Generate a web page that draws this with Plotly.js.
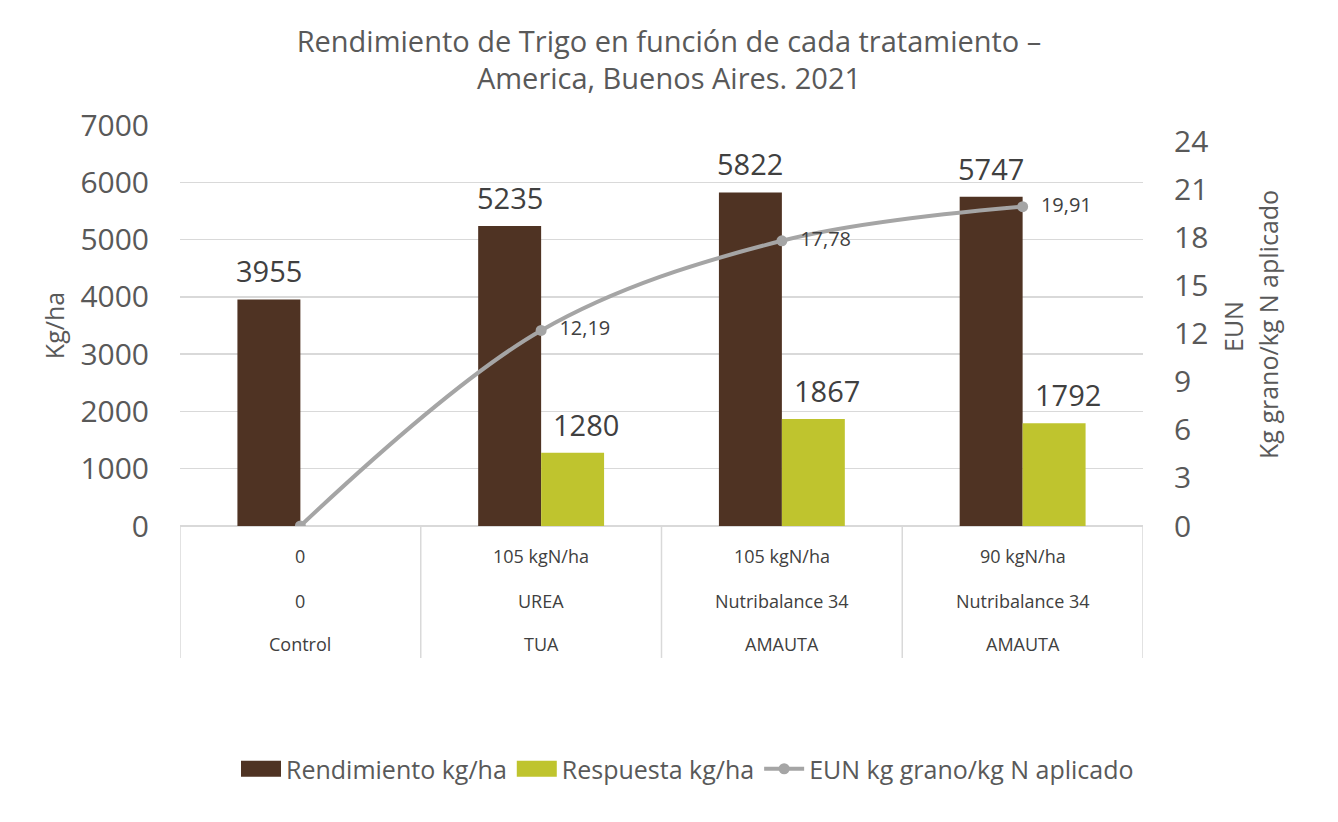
<!DOCTYPE html>
<html>
<head>
<meta charset="utf-8">
<script src="https://cdn.plot.ly/plotly-3.0.1.min.js"></script>
<style>html,body{margin:0;padding:0;background:#fff;}</style>
</head>
<body>
<div id="chart" style="width:1338px;height:822px;"></div>
<script>
// ---- data ----
const dosis = ["0", "105 kgN/ha", "105 kgN/ha", "90 kgN/ha"];
const producto = ["0", "UREA", "Nutribalance 34", "Nutribalance 34"];
const tratamiento = ["Control", "TUA", "AMAUTA", "AMAUTA"];
const rendimiento = [3955, 5235, 5822, 5747];
const respuesta = [null, 1280, 1867, 1792];
const eun = [0, 12.19, 17.78, 19.91];
const eunLabels = ["", "12,19", "17,78", "19,91"];
const leftTicks = [0, 1000, 2000, 3000, 4000, 5000, 6000, 7000];
const rightTicks = [0, 3, 6, 9, 12, 15, 18, 21, 24];

const idx = dosis.map((_, i) => i);
const FONT = "Open Sans, Noto Sans, sans-serif";
const BROWN = "#4F3323";
const GREEN = "#BFC42E";
const GREY = "#A5A5A5";

const traces = [
  {
    type: "bar", name: "Rendimiento kg/ha", x: idx, y: rendimiento,
    marker: {color: BROWN}, hoverinfo: "none"
  },
  {
    type: "bar", name: "Respuesta kg/ha", x: idx, y: respuesta,
    marker: {color: GREEN}, hoverinfo: "none"
  },
  {
    type: "scatter", mode: "lines+markers+text", name: "EUN kg grano/kg N aplicado",
    x: idx, y: eun, yaxis: "y2",
    text: eunLabels, texttemplate: "  %{text}", textposition: "middle right",
    textfont: {family: FONT, size: 20, color: "#404040"},
    line: {color: GREY, width: 4, shape: "spline", smoothing: 1},
    marker: {color: GREY, size: 11, symbol: "circle"},
    hoverinfo: "none"
  }
];

const annotations = [];
// bar value labels
rendimiento.forEach((v, i) => {
  if (v == null) return;
  annotations.push({x: i, y: v, xref: "x", yref: "y", text: String(v),
    showarrow: false, xshift: -31.5, yshift: 7, yanchor: "bottom",
    font: {family: FONT, size: 29, color: "#404040"}});
});
respuesta.forEach((v, i) => {
  if (v == null) return;
  annotations.push({x: i, y: v, xref: "x", yref: "y", text: String(v),
    showarrow: false, xshift: 45, yshift: 7, yanchor: "bottom",
    font: {family: FONT, size: 29, color: "#404040"}});
});
// category rows
const rows = [[dosis, -0.0748], [producto, -0.187], [tratamiento, -0.294]];
rows.forEach(([arr, yy]) => {
  arr.forEach((t, i) => {
    annotations.push({x: i, y: yy, xref: "x", yref: "paper", text: t,
      showarrow: false, yanchor: "middle",
      font: {family: FONT, size: 18, color: "#404040"}});
  });
});
// right axis title (two lines)
annotations.push({x: 1233, y: 327, xref: "paper", yref: "paper", text: "EUN",
  showarrow: false, textangle: -90});
annotations.push({x: 1268, y: 325, xref: "paper", yref: "paper", text: "Kg grano/kg N aplicado",
  showarrow: false, textangle: -90});

// convert pixel positions of right titles into paper coords
const L = 180, R = 1143, T = 125, B = 526;
[annotations.length - 2, annotations.length - 1].forEach(k => {
  const a = annotations[k];
  a.x = (a.x - L) / (R - L);
  a.y = (B - a.y) / (B - T);
  a.xanchor = "center"; a.yanchor = "middle";
  a.font = {family: FONT, size: 25, color: "#595959"};
});

const shapes = [];
// vertical category dividers
for (let i = 0; i <= dosis.length; i++) {
  shapes.push({type: "line", xref: "x", yref: "paper", x0: i - 0.5, x1: i - 0.5,
    y0: 0, y1: -0.329, line: {color: "#D9D9D9", width: 1.5}});
}

const layout = {
  width: 1338, height: 822,
  margin: {l: L, r: 1338 - R, t: T, b: 822 - B, pad: 0},
  paper_bgcolor: "#fff", plot_bgcolor: "#fff",
  font: {family: FONT, color: "#595959"},
  title: {
    text: "Rendimiento de Trigo en función de cada tratamiento –<br>America, Buenos Aires. 2021",
    x: 0.5, xanchor: "center", y: 0.937, yanchor: "middle",
    font: {family: FONT, size: 29, color: "#595959"}
  },
  barmode: "group", bargap: 0.477, bargroupgap: 0,
  showlegend: true,
  legend: {
    orientation: "h", x: 0.527, xanchor: "center", y: -0.606, yanchor: "middle",
    font: {family: FONT, size: 25, color: "#595959"},
    itemwidth: 40, traceorder: "normal"
  },
  xaxis: {
    range: [-0.5, dosis.length - 0.5], showticklabels: false, showgrid: false,
    zeroline: false, showline: false, ticks: "", fixedrange: true
  },
  yaxis: {
    range: [0, 7000], tickvals: leftTicks, ticktext: leftTicks.map(String),
    showgrid: true, gridcolor: "#D9D9D9", gridwidth: 1.5,
    zeroline: true, zerolinecolor: "#D9D9D9", zerolinewidth: 1.5,
    showline: false, ticks: "", ticklabelstandoff: 30,
    tickfont: {family: FONT, size: 30, color: "#595959"},
    title: {text: "Kg/ha", standoff: 8, font: {family: FONT, size: 25, color: "#595959"}}
  },
  yaxis2: {
    overlaying: "y", side: "right", range: [0, 25],
    tickvals: rightTicks, ticktext: rightTicks.map(String),
    showgrid: false, zeroline: false, showline: false, ticks: "",
    ticklabelstandoff: 30,
    tickfont: {family: FONT, size: 30, color: "#595959"}
  },
  annotations: annotations,
  shapes: shapes
};

Plotly.newPlot("chart", traces, layout, {displayModeBar: false, staticPlot: true}).then(gd => {
  // widen the bar legend swatches to match the reference's wide rectangles
  gd.querySelectorAll(".legend .traces .legendpoints path").forEach(p => {
    const d = p.getAttribute("d") || "";
    if (d.indexOf("M6,6H-6V-6H6Z") === 0) {
      p.setAttribute("d", "M20,8H-20V-8H20Z");
    }
  });
});
</script>
</body>
</html>
